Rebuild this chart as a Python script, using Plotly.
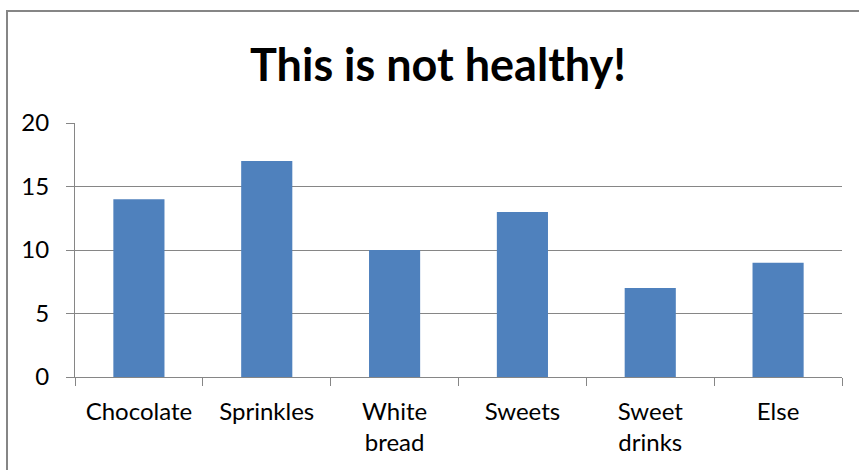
import plotly.graph_objects as go

# Unhealthy foods tally
categories = ["Chocolate", "Sprinkles", "White bread", "Sweets", "Sweet drinks", "Else"]
tick_labels = ["Chocolate", "Sprinkles", "White<br>bread", "Sweets", "Sweet<br>drinks", "Else"]
counts = [14, 17, 10, 13, 7, 9]
y_ticks = [0, 5, 10, 15, 20]

W, H = 859, 470
L, R, T, B = 75, 17, 123, 93
pw, ph = W - L - R, H - T - B

GRAY = "#868686"
BLUE = "#4F81BD"
FONT = "Lato"

fig = go.Figure(
    go.Bar(x=categories, y=counts, marker=dict(color=BLUE, line=dict(width=0)))
)

fig.update_layout(
    width=W,
    height=H,
    margin=dict(l=L, r=R, t=T, b=B),
    paper_bgcolor="white",
    plot_bgcolor="white",
    bargap=0.6,
    showlegend=False,
    font=dict(family=FONT, size=24, color="black"),
    title=dict(
        text="<b>This is not healthy!</b>",
        font=dict(family=FONT, size=45, color="black"),
        x=(438 - L) / pw,
        xref="paper",
        xanchor="center",
        y=1 - 65 / H,
        yref="container",
        yanchor="middle",
    ),
)

fig.update_xaxes(
    tickmode="array",
    tickvals=categories,
    ticktext=tick_labels,
    tickson="boundaries",
    ticks="outside",
    ticklen=8,
    tickcolor=GRAY,
    tickwidth=1,
    showline=True,
    linecolor=GRAY,
    linewidth=1,
    showgrid=False,
    ticklabelstandoff=13,
    tickfont=dict(family=FONT, size=24, color="black"),
)

fig.update_yaxes(
    range=[0, 20],
    tickvals=y_ticks,
    ticks="outside",
    ticklen=8,
    tickcolor=GRAY,
    showline=True,
    linecolor=GRAY,
    showgrid=True,
    gridcolor=GRAY,
    gridwidth=1,
    zeroline=False,
    ticklabelstandoff=12,
    tickfont=dict(family=FONT, size=24, color="black"),
)

# Chart frame (runs off the right and bottom edges)
fig.add_shape(
    type="rect",
    xref="paper",
    yref="paper",
    x0=(7 - L) / pw,
    x1=(W + 10 - L) / pw,
    y0=-(H + 10 - (H - B)) / ph,
    y1=1 + (T - 11) / ph,
    line=dict(color=GRAY, width=2),
    fillcolor="rgba(0,0,0,0)",
    layer="above",
)

fig.write_html("out.html")
